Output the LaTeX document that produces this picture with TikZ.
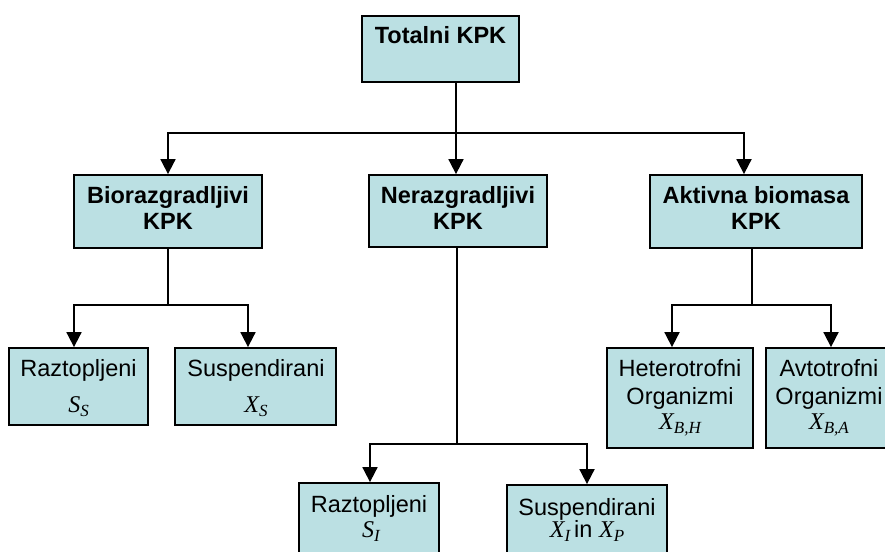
\documentclass[tikz,border=0pt]{standalone}
\usepackage{fontspec}
\setmainfont{Liberation Sans}
\newfontfamily\mathserif{Liberation Serif}
\usetikzlibrary{arrows.meta,fit}

\definecolor{boxfill}{RGB}{187,224,227}

% italic variable with a lowered subscript, Times-like
\newcommand\kvar[2]{{\mathserif\itshape #1\raisebox{-4pt}{\fontsize{17}{17}\selectfont #2}}}

\tikzset{
  box/.style={draw=black, fill=boxfill, line width=1.8pt, inner sep=0pt},
  head/.style={font=\fontsize{23.5}{28}\selectfont\bfseries, inner sep=0pt, anchor=base},
  txt/.style={font=\fontsize{23.5}{28}\selectfont, inner sep=0pt, anchor=base},
  mth/.style={font=\fontsize{24}{28}\selectfont, inner sep=0pt, anchor=base},
  link/.style={line width=1.8pt},
  arr/.style={line width=1.8pt, -{Triangle[width=15pt,length=15pt]}},
}

\begin{document}
\begin{tikzpicture}[x=1pt, y=-1pt]
  \useasboundingbox (0,0) rectangle (885,551);
  \fill[white] (0,0) rectangle (885,551);
  \clip (0,0) rectangle (885,551);

  % boxes
  \node[box, fit={(362,16) (519,82)}]   (tot)  {};
  \node[box, fit={(74,175) (262,248)}]  (bio)  {};
  \node[box, fit={(369,175) (547,247)}] (nera) {};
  \node[box, fit={(650,175) (862,248)}] (akt)  {};
  \node[box, fit={(9,348) (148,425)}]   (rs)   {};
  \node[box, fit={(175,348) (336,425)}] (xs)   {};
  \node[box, fit={(607,348) (753,448)}] (het)  {};
  \node[box, fit={(766,348) (892,448)}] (avt)  {};
  \node[box, fit={(299,483) (439,560)}] (ri)   {};
  \node[box, fit={(507,485) (667,560)}] (xi)   {};

  % labels
  \node[head] (tTot)  at (440.5,44) {Totalni KPK};
  \node[head] (tBio1) at (168,203) {Biorazgradljivi};
  \node[head] (tBio2) at (168,229) {KPK};
  \node[head] (tNer1) at (458,203) {Nerazgradljivi};
  \node[head] (tNer2) at (458,229) {KPK};
  \node[head] (tAkt1) at (756,203) {Aktivna biomasa};
  \node[head] (tAkt2) at (756,229) {KPK};

  \node[txt] (tRs1) at (78.5,376) {Raztopljeni};
  \node[mth] (tRs2) at (78.5,412) {\kvar{S}{S}};
  \node[txt] (tXs1) at (256,376) {Suspendirani};
  \node[mth] (tXs2) at (256,412) {\kvar{X}{S}};

  \node[txt] (tHe1) at (680,376) {Heterotrofni};
  \node[txt] (tHe2) at (680,404) {Organizmi};
  \node[mth] (tHe3) at (680,429) {\kvar{X}{B,H}};
  \node[txt] (tAv1) at (829,376) {Avtotrofni};
  \node[txt] (tAv2) at (829,404) {Organizmi};
  \node[mth] (tAv3) at (829,429) {\kvar{X}{B,A}};

  \node[txt] (tRi1) at (369,512) {Raztopljeni};
  \node[mth] (tRi2) at (371,537) {\kvar{S}{I}};
  \node[txt] (tXi1) at (587,515) {Suspendirani};
  \node[mth] (tXi2) at (587,537) {\kvar{X}{I}\,{\fontsize{23.5}{28}\selectfont in} \kvar{X}{P}};

  % connectors from the top box
  \draw[link] ([xshift=15.5pt]tot.south) -- ++(0,50) coordinate (jt);
  \draw[arr] (jt) -| (bio.north);
  \draw[arr] (jt) -- (jt |- nera.north);
  \draw[arr] (jt) -| ([xshift=-12pt]akt.north);

  % biodegradable branch
  \draw[link] (bio.south) -- ++(0,56) coordinate (jb);
  \draw[arr] (jb) -| ([xshift=-4.5pt]rs.north);
  \draw[arr] (jb) -| ([xshift=-7.5pt]xs.north);

  % non-degradable branch
  \draw[link] ([xshift=-1pt]nera.south) -- ++(0,196) coordinate (jn);
  \draw[arr] (jn) -| ([xshift=1pt]ri.north);
  \draw[arr] (jn) -| (xi.north);

  % active biomass branch
  \draw[link] ([xshift=-4pt]akt.south) -- ++(0,56) coordinate (ja);
  \draw[arr] (ja) -| ([xshift=-8pt]het.north);
  \draw[arr] (ja) -| ([xshift=2pt]avt.north);
\end{tikzpicture}
\end{document}
